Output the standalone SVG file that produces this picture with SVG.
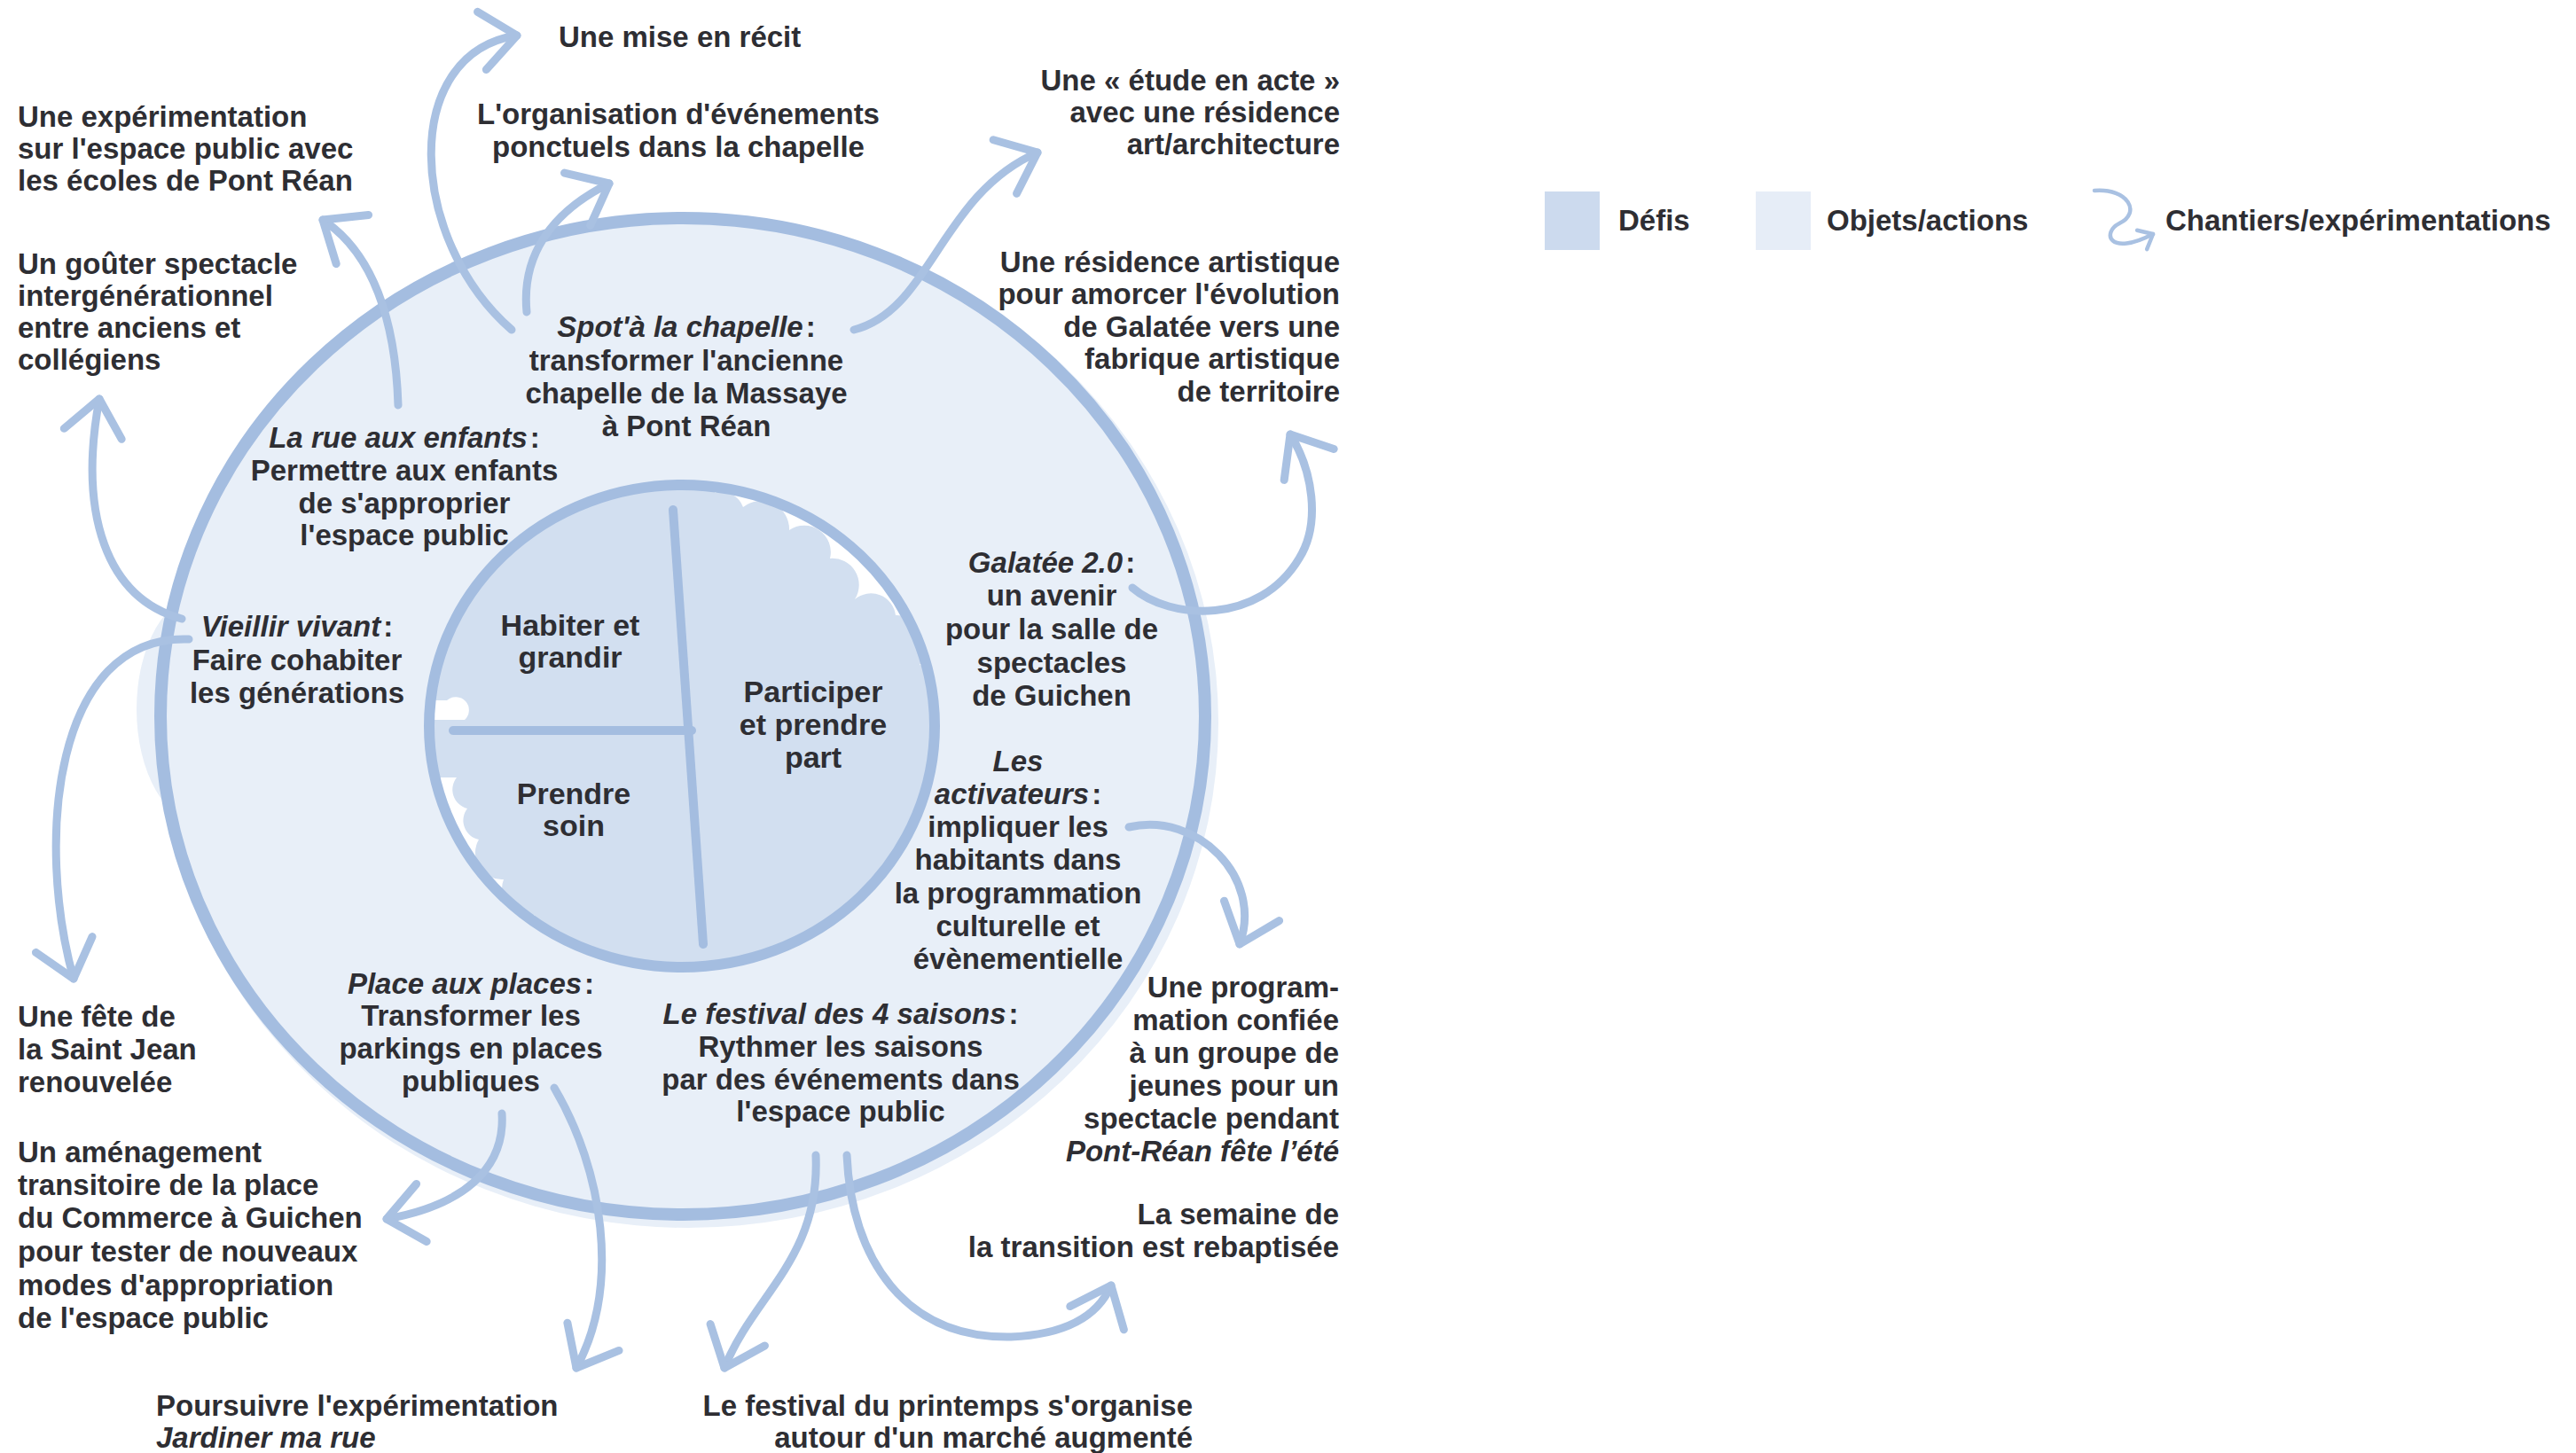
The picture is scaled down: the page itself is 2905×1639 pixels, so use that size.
<svg xmlns="http://www.w3.org/2000/svg" width="2905" height="1639" viewBox="0 0 2905 1639">
<style>
.t{font-family:"Liberation Sans",Arial,Helvetica,sans-serif;font-weight:bold;font-size:33px;fill:#2e2e33}
.i{font-style:italic}
.c{text-anchor:middle}
.r{text-anchor:end}
.big{font-size:34px}
.arr{fill:none;stroke:#a9c1e2;stroke-width:9;stroke-linecap:round;marker-end:url(#chev)}
.ring{fill:none;stroke:#a4bde0;stroke-linecap:round}
</style>
<defs>
<marker id="chev" markerUnits="userSpaceOnUse" viewBox="-60 -50 70 100" markerWidth="70" markerHeight="100" refX="0" refY="0" orient="auto" overflow="visible">
<path d="M-40,-33 L0,0 L-40,33" fill="none" stroke="#a9c1e2" stroke-width="9" stroke-linecap="round" stroke-linejoin="round"/>
</marker>
<marker id="chevs" markerUnits="userSpaceOnUse" viewBox="-20 -15 25 30" markerWidth="25" markerHeight="30" refX="0" refY="0" orient="auto" overflow="visible">
<path d="M-14,-12 L0,0 L-14,12" fill="none" stroke="#a9c1e2" stroke-width="4.5" stroke-linecap="round" stroke-linejoin="round"/>
</marker>
<clipPath id="innerClip"><ellipse cx="769" cy="819" rx="285" ry="272"/></clipPath>
</defs>

<g id="background">
<ellipse cx="229" cy="800" rx="75" ry="130" fill="#e8eff8"/>
<ellipse cx="776" cy="815" rx="598" ry="570" fill="#e8eff8"/>
</g>

<g id="defis">
<g clip-path="url(#innerClip)">
<rect x="470" y="530" width="600" height="580" fill="#d2dff0"/>
<path d="M806,556 A26,26 0 0 1 838,572 A32,32 0 0 1 890,598 A30,30 0 0 1 936,630 A30,30 0 0 1 964,676 A28,28 0 0 1 1010,694 A34,34 0 0 1 1037,750 A26,26 0 0 1 1052,792 L1100,792 L1100,520 L806,520 Z" fill="#ffffff"/>
<path d="M820,1094 A50,50 0 0 1 722,1084 A40,40 0 0 1 650,1066 A32,32 0 0 1 603,1032 A30,30 0 0 1 568,992 A30,30 0 0 1 540,947 A22,22 0 0 1 527,912 A22,22 0 0 1 515,877 L460,877 L460,1120 L820,1120 Z" fill="#ffffff"/>
<path d="M504,790 A14,14 0 0 1 524,812 L470,812 L470,790 Z" fill="#ffffff"/>
</g>
<ellipse class="ring" cx="769" cy="819" rx="285" ry="272" stroke-width="12"/>
<path class="ring" d="M759,575 L793,1065" stroke-width="10"/>
<path class="ring" d="M511,824 L780,824" stroke-width="10"/>
<text class="t c big"><tspan x="643" y="717">Habiter et</tspan><tspan x="643" y="753">grandir</tspan></text>
<text class="t c big"><tspan x="647" y="907">Prendre</tspan><tspan x="647" y="943">soin</tspan></text>
<text class="t c big"><tspan x="917" y="792">Participer</tspan><tspan x="917" y="829">et prendre</tspan><tspan x="917" y="866">part</tspan></text>
</g>

<g id="objets-ring">
<ellipse class="ring" cx="770" cy="808" rx="589" ry="562" stroke-width="14"/>
</g>

<g id="connectors">
<path class="arr" d="M577,372 C460,270 450,60 583,40"/>
<path class="arr" d="M594,352 C588,290 620,240 687,207"/>
<path class="arr" d="M449,457 C446,360 420,285 364,248"/>
<path class="arr" d="M205,698 C120,675 88,580 112,450"/>
<path class="arr" d="M213,721 C60,715 40,950 83,1104"/>
<path class="arr" d="M963,372 C1050,350 1060,220 1170,172"/>
<path class="arr" d="M1277,663 C1320,700 1420,705 1465,630 C1490,590 1480,530 1455,490"/>
<path class="arr" d="M1273,933 C1350,915 1425,990 1398,1065"/>
<path class="arr" d="M955,1303 C960,1420 1020,1510 1140,1508 C1210,1505 1240,1480 1253,1450"/>
<path class="arr" d="M920,1303 C925,1420 850,1460 817,1543"/>
<path class="arr" d="M566,1256 C570,1320 520,1360 436,1375"/>
<path class="arr" d="M625,1227 C680,1320 700,1450 650,1543"/>
</g>

<g id="obj-spot"><text class="t c"><tspan x="774" y="380" class="i">Spot'à la chapelle</tspan><tspan dx="3">:</tspan><tspan x="774" y="418">transformer l'ancienne</tspan><tspan x="774" y="455">chapelle de la Massaye</tspan><tspan x="774" y="492">à Pont Réan</tspan></text></g>
<g id="obj-rue"><text class="t c"><tspan x="456" y="505" class="i">La rue aux enfants</tspan><tspan dx="3">:</tspan><tspan x="456" y="542">Permettre aux enfants</tspan><tspan x="456" y="579">de s'approprier</tspan><tspan x="456" y="615">l'espace public</tspan></text></g>
<g id="obj-vieillir"><text class="t c"><tspan x="335" y="718" class="i">Vieillir vivant</tspan><tspan dx="3">:</tspan><tspan x="335" y="756">Faire cohabiter</tspan><tspan x="335" y="793">les générations</tspan></text></g>
<g id="obj-galatee"><text class="t c"><tspan x="1186" y="646" class="i">Galatée 2.0</tspan><tspan dx="3">:</tspan><tspan x="1186" y="683">un avenir</tspan><tspan x="1186" y="721">pour la salle de</tspan><tspan x="1186" y="759">spectacles</tspan><tspan x="1186" y="796">de Guichen</tspan></text></g>
<g id="obj-activateurs"><text class="t c"><tspan x="1148" y="870" class="i">Les</tspan><tspan x="1148" y="907" class="i">activateurs</tspan><tspan dx="3">:</tspan><tspan x="1148" y="944">impliquer les</tspan><tspan x="1148" y="981">habitants dans</tspan><tspan x="1148" y="1019">la programmation</tspan><tspan x="1148" y="1056">culturelle et</tspan><tspan x="1148" y="1093">évènementielle</tspan></text></g>
<g id="obj-place"><text class="t c"><tspan x="531" y="1121" class="i">Place aux places</tspan><tspan dx="3">:</tspan><tspan x="531" y="1157">Transformer les</tspan><tspan x="531" y="1194">parkings en places</tspan><tspan x="531" y="1231">publiques</tspan></text></g>
<g id="obj-festival"><text class="t c"><tspan x="948" y="1155" class="i">Le festival des 4 saisons</tspan><tspan dx="3">:</tspan><tspan x="948" y="1192">Rythmer les saisons</tspan><tspan x="948" y="1229">par des événements dans</tspan><tspan x="948" y="1265">l'espace public</tspan></text></g>

<g id="ch-mise"><text class="t" x="630" y="53">Une mise en récit</text></g>
<g id="ch-orga"><text class="t c"><tspan x="765" y="140">L'organisation d'événements</tspan><tspan x="765" y="177">ponctuels dans la chapelle</tspan></text></g>
<g id="ch-experimentation"><text class="t"><tspan x="20" y="143">Une expérimentation</tspan><tspan x="20" y="179">sur l'espace public avec</tspan><tspan x="20" y="215">les écoles de Pont Réan</tspan></text></g>
<g id="ch-gouter"><text class="t"><tspan x="20" y="309">Un goûter spectacle</tspan><tspan x="20" y="345">intergénérationnel</tspan><tspan x="20" y="381">entre anciens et</tspan><tspan x="20" y="417">collégiens</tspan></text></g>
<g id="ch-etude"><text class="t r"><tspan x="1511" y="102">Une « étude en acte »</tspan><tspan x="1511" y="138">avec une résidence</tspan><tspan x="1511" y="174">art/architecture</tspan></text></g>
<g id="ch-residence"><text class="t r"><tspan x="1511" y="307">Une résidence artistique</tspan><tspan x="1511" y="343">pour amorcer l'évolution</tspan><tspan x="1511" y="380">de Galatée vers une</tspan><tspan x="1511" y="416">fabrique artistique</tspan><tspan x="1511" y="453">de territoire</tspan></text></g>
<g id="ch-programmation"><text class="t r"><tspan x="1510" y="1125">Une program-</tspan><tspan x="1510" y="1162">mation confiée</tspan><tspan x="1510" y="1199">à un groupe de</tspan><tspan x="1510" y="1236">jeunes pour un</tspan><tspan x="1510" y="1273">spectacle pendant</tspan><tspan x="1510" y="1310" class="i">Pont-Réan fête l’été</tspan></text></g>
<g id="ch-semaine"><text class="t r"><tspan x="1510" y="1381">La semaine de</tspan><tspan x="1510" y="1418">la transition est rebaptisée</tspan></text></g>
<g id="ch-printemps"><text class="t r"><tspan x="1345" y="1597">Le festival du printemps s'organise</tspan><tspan x="1345" y="1633">autour d'un marché augmenté</tspan></text></g>
<g id="ch-poursuivre"><text class="t"><tspan x="176" y="1597">Poursuivre l'expérimentation</tspan><tspan x="176" y="1633" class="i">Jardiner ma rue</tspan></text></g>
<g id="ch-amenagement"><text class="t"><tspan x="20" y="1311">Un aménagement</tspan><tspan x="20" y="1348">transitoire de la place</tspan><tspan x="20" y="1385">du Commerce à Guichen</tspan><tspan x="20" y="1423">pour tester de nouveaux</tspan><tspan x="20" y="1461">modes d'appropriation</tspan><tspan x="20" y="1498">de l'espace public</tspan></text></g>
<g id="ch-stjean"><text class="t"><tspan x="20" y="1158">Une fête de</tspan><tspan x="20" y="1195">la Saint Jean</tspan><tspan x="20" y="1232">renouvelée</tspan></text></g>

<g id="legend">
<rect x="1742" y="216" width="62" height="66" fill="#ccdaee"/>
<text class="t" x="1825" y="260">Défis</text>
<rect x="1980" y="216" width="62" height="66" fill="#e6edf7"/>
<text class="t" x="2060" y="260">Objets/actions</text>
<path d="M2362,215 C2400,212 2415,240 2390,252 C2370,262 2378,290 2428,264" fill="none" stroke="#a9c1e2" stroke-width="4.5" stroke-linecap="round" marker-end="url(#chevs)"/>
<text class="t" x="2442" y="260">Chantiers/expérimentations</text>
</g>
</svg>
